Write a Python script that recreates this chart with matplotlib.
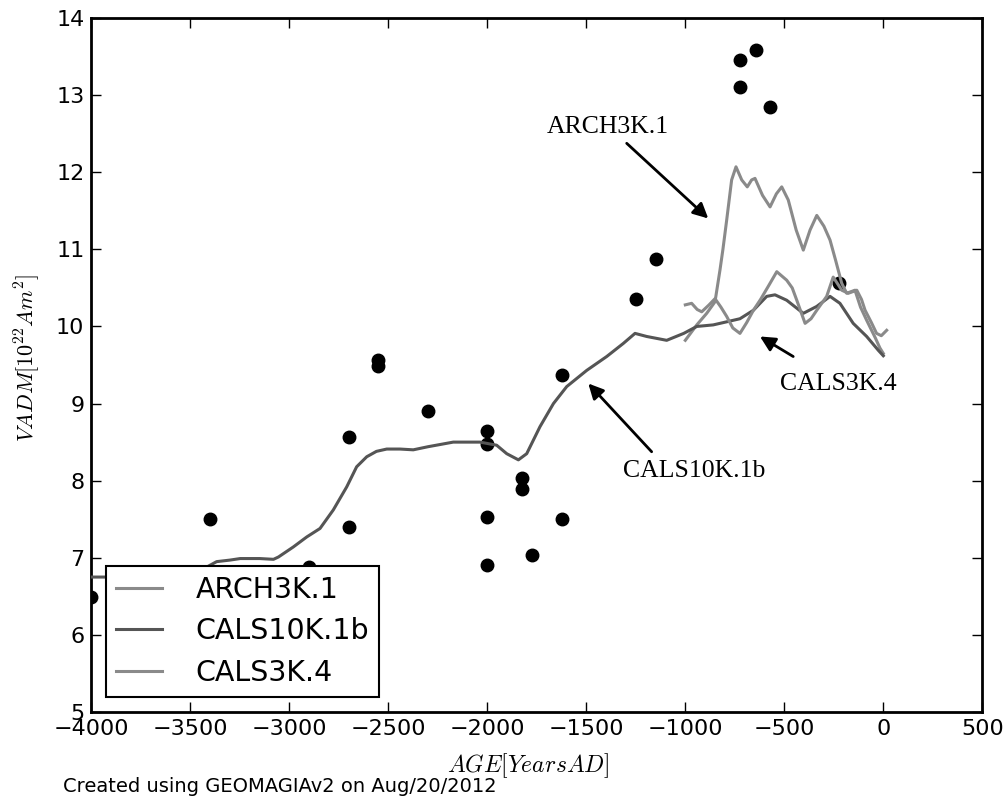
import matplotlib
matplotlib.use("Agg")
import matplotlib.pyplot as plt

plt.rcParams['mathtext.fontset'] = 'cm'
plt.rcParams['font.family'] = ['DejaVu Sans']

# ---- data ----
arch_age = [-1000, -942, -892, -850, -825, -810, -791, -766, -744, -715, -687, -665, -648,
            -610, -572, -540, -513, -480, -440, -404, -370, -336, -300, -269, -240, -210,
            -185, -143, -115, -84, -40, -17, 0]
arch_vadm = [9.82, 10.02, 10.17, 10.32, 10.73, 11.00, 11.38, 11.90, 12.07, 11.90, 11.81, 11.90,
             11.92, 11.70, 11.55, 11.72, 11.81, 11.64, 11.25, 10.99, 11.25, 11.44, 11.30, 11.12,
             10.85, 10.56, 10.43, 10.47, 10.25, 10.08, 9.85, 9.72, 9.65]

cals3k_age = [-1000, -968, -940, -917, -880, -850, -820, -791, -760, -724, -690, -656, -620,
              -581, -538, -488, -460, -437, -395, -365, -336, -286, -253, -230, -210, -177,
              -134, -110, -92, -60, -34, -10, 17]
cals3k_vadm = [10.28, 10.30, 10.22, 10.19, 10.28, 10.36, 10.25, 10.13, 9.98, 9.91, 10.05,
               10.21, 10.35, 10.52, 10.71, 10.60, 10.50, 10.34, 10.04, 10.10, 10.21, 10.39,
               10.64, 10.55, 10.47, 10.43, 10.47, 10.35, 10.21, 10.05, 9.91, 9.88, 9.95]

cals10k_age = [-4000, -3922, -3800, -3650, -3500, -3417, -3367, -3300, -3248, -3150, -3080,
               -3055, -2980, -2912, -2845, -2778, -2710, -2660, -2609, -2560, -2508, -2441,
               -2374, -2300, -2172, -2037, -1953, -1902, -1843, -1801, -1734, -1666, -1599,
               -1498, -1397, -1313, -1254, -1195, -1094, -1008, -942, -859, -791, -724, -656,
               -589, -547, -488, -404, -336, -269, -219, -152, -84, -25, 0]
cals10k_vadm = [6.75, 6.75, 6.76, 6.79, 6.83, 6.88, 6.95, 6.97, 6.99, 6.99, 6.98, 7.01, 7.14,
                7.27, 7.38, 7.62, 7.92, 8.18, 8.31, 8.38, 8.41, 8.41, 8.40, 8.44, 8.50, 8.50,
                8.46, 8.35, 8.27, 8.35, 8.70, 9.00, 9.22, 9.43, 9.61, 9.78, 9.91, 9.87, 9.82,
                9.91, 10.00, 10.02, 10.06, 10.10, 10.21, 10.39, 10.41, 10.34, 10.17, 10.26,
                10.39, 10.30, 10.04, 9.87, 9.69, 9.62]

point_age = [-4000, -3400, -2900, -2700, -2700, -2550, -2550, -2300, -2000, -2000, -2000,
             -2000, -1825, -1825, -1775, -1625, -1625, -1250, -1150, -725, -725, -645, -570,
             -225]
point_vadm = [6.49, 7.50, 6.88, 8.57, 7.40, 9.57, 9.49, 8.90, 8.64, 8.47, 7.53, 6.91, 8.03,
              7.89, 7.04, 9.37, 7.50, 10.36, 10.87, 13.46, 13.11, 13.59, 12.84, 10.56]

series_labels = ['ARCH3K.1', 'CALS10K.1b', 'CALS3K.4']
xticks = [-4000, -3500, -3000, -2500, -2000, -1500, -1000, -500, 0, 500]
yticks = [5, 6, 7, 8, 9, 10, 11, 12, 13, 14]

# ---- figure ----
fig = plt.figure(figsize=(10.08, 8.0), dpi=100)
ax = fig.add_axes([0.0906, 0.11, 0.8839, 0.8675])

light = '#8a8a8a'
dark = '#555555'
ax.plot(point_age, point_vadm, 'o', color='black', markersize=9, zorder=2)
ax.plot(arch_age, arch_vadm, color=light, lw=2.2, label=series_labels[0], zorder=3)
ax.plot(cals10k_age, cals10k_vadm, color=dark, lw=2.2, label=series_labels[1], zorder=3)
ax.plot(cals3k_age, cals3k_vadm, color=light, lw=2.2, label=series_labels[2], zorder=3)

ax.set_xlim(-4000, 500)
ax.set_ylim(5, 14)
ax.set_xticks(xticks)
ax.set_yticks(yticks)
ax.tick_params(direction='in', length=7, width=1, top=True, right=True,
               labelsize=16, pad=5)
for s in ax.spines.values():
    s.set_linewidth(2)

ax.set_xlabel(r'$AGE [Years AD]$', fontsize=17)
ax.set_ylabel(r'$VADM [10^{22} Am^2]$', fontsize=16)
ax.xaxis.set_label_coords(0.49, -0.056)
ax.yaxis.set_label_coords(-0.055, 0.51)

leg = ax.legend(loc='lower left', bbox_to_anchor=(0.0165, 0.0216), borderaxespad=0,
                fontsize=20.5, frameon=True, fancybox=False, framealpha=1,
                edgecolor='black', handlelength=1.6, handletextpad=1.2,
                labelspacing=0.48, borderpad=0.35)
leg.get_frame().set_linewidth(1.5)

serif = ['Liberation Serif', 'DejaVu Serif']
aprops = dict(arrowstyle='-|>,head_length=0.9,head_width=0.45', color='black', lw=2,
              shrinkA=0, shrinkB=0)
ax.text(-1700, 12.51, 'ARCH3K.1', family=serif, fontsize=18.5, ha='left', va='baseline')
ax.annotate('', xy=(-884, 11.40), xytext=(-1296, 12.375), arrowprops=aprops)
ax.text(-1313, 8.05, 'CALS10K.1b', family=serif, fontsize=18.5, ha='left', va='baseline')
ax.annotate('', xy=(-1490, 9.26), xytext=(-1170, 8.375), arrowprops=aprops)
ax.text(-522, 9.175, 'CALS3K.4', family=serif, fontsize=18.5, ha='left', va='baseline')
ax.annotate('', xy=(-623, 9.87), xytext=(-455, 9.61), arrowprops=aprops)

fig.text(63 / 1008, 1 - 786 / 800, 'Created using GEOMAGIAv2 on Aug/20/2012',
         fontsize=14, ha='left', va='center')

fig.savefig('out.png', dpi=100)
